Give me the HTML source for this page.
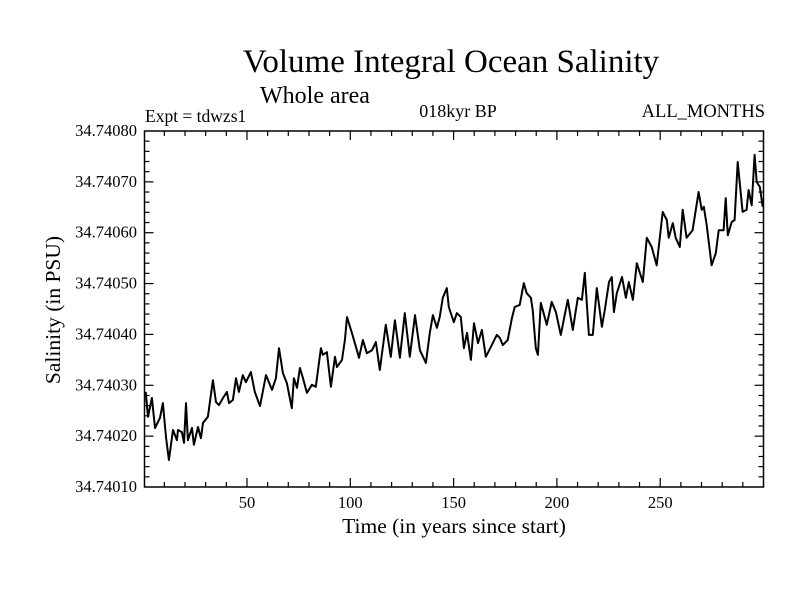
<!DOCTYPE html>
<html><head><meta charset="utf-8"><style>
html,body{margin:0;padding:0;background:#fff;}
svg{display:block;font-family:"Liberation Serif",serif;}
</style></head><body>
<svg id="chart" width="800" height="600" viewBox="0 0 800 600" xmlns="http://www.w3.org/2000/svg">
<rect width="800" height="600" fill="#fff"/>
<text x="451" y="72" font-size="33" text-anchor="middle">Volume Integral Ocean Salinity</text>
<text x="260" y="103" font-size="24">Whole area</text>
<text x="145" y="122" font-size="17.5">Expt = tdwzs1</text>
<text x="458" y="117" font-size="18" text-anchor="middle">018kyr BP</text>
<text x="765" y="117" font-size="18.5" text-anchor="end">ALL_MONTHS</text>
<text transform="translate(60,310) rotate(-90)" font-size="21.5" text-anchor="middle">Salinity (in PSU)</text>
<text x="454" y="533" font-size="21.5" text-anchor="middle">Time (in years since start)</text>
<g id="axes"></g>
<path id="series" fill="none" stroke="#000" stroke-width="2" stroke-linejoin="round"/>
<rect x="144.5" y="131" width="619" height="356" fill="none" stroke="#000" stroke-width="1.5"/>
</svg>
<script>
const years = [1,2.1,4.0,5.5,7.9,9.3,10.8,12.2,14.2,16.1,16.6,18.5,19.5,20.5,21.4,23.4,24.3,26.3,27.7,28.7,31.1,33.5,35.0,36.4,38.4,40.3,41.3,43.2,44.7,46.1,48.0,49.5,51.9,53.8,56.3,59.2,62.1,64.0,65.5,67.4,69.3,71.7,72.7,74.2,75.6,77.1,79.0,81.4,83.3,85.8,86.7,88.7,90.6,92.6,93.5,96.0,97.4,98.4,100.8,103.2,104.2,106.1,108.0,110.5,112.4,114.3,117.2,119.6,121.6,124.0,126.4,128.8,131.3,133.7,136.6,138.5,140.0,141.9,143.3,144.8,146.7,147.7,150.1,151.6,153.5,155.0,156.5,158.4,159.9,161.8,163.7,165.6,168.0,170.9,172.4,173.8,176.2,178.2,179.6,182.0,184.0,185.4,187.4,188.3,189.8,190.8,192.2,195.1,197.5,199.5,201.9,203.8,205.3,207.7,210.1,212.1,213.5,215.5,217.4,219.3,221.8,223.2,225.2,226.6,227.6,229.0,231.5,233.4,234.8,236.8,238.7,241.6,243.5,245.9,248.3,251.2,253.2,254.1,256.1,257.5,259.5,260.9,262.8,265.7,268.6,270.1,271.1,272.5,274.9,276.9,278.3,280.7,281.7,282.7,284.6,286.0,287.5,289.9,291.8,292.8,294.3,295.7,296.7,298.2,299.6];
// salinity anomaly in units of 1e-5 PSU above 34.74
const salinity = [28.7,23.8,27.5,21.6,23.6,26.5,19.8,15.3,21.2,19.2,21.2,20.8,18.7,26.5,19.2,21.6,18.3,21.8,19.6,22.6,23.8,31.0,26.7,26.1,27.5,28.7,26.5,27.1,31.4,28.7,32.0,30.6,32.6,28.7,25.9,32.0,29.1,31.4,37.3,32.4,30.4,25.5,31.4,29.5,33.4,31.4,28.5,30.1,29.7,37.3,36.0,36.5,29.7,35.6,33.6,35.0,38.9,43.4,40.3,36.9,35.4,38.9,36.3,36.9,38.5,33.0,41.9,35.6,42.8,35.4,44.2,35.6,43.8,36.9,34.4,40.3,43.8,41.3,43.4,47.2,49.1,45.4,42.4,44.2,43.4,37.3,40.3,35.0,42.2,38.3,40.9,35.6,37.5,39.9,39.3,37.9,38.9,43.2,45.4,45.8,50.1,48.1,47.2,44.8,37.3,36.0,46.2,41.9,46.4,44.4,39.9,43.8,46.8,40.9,47.2,46.8,52.1,39.9,39.9,49.1,41.5,44.8,50.3,51.3,44.4,48.1,51.3,47.2,50.3,46.8,54.0,50.3,59.0,57.2,53.6,64.1,62.5,59.0,61.9,59.0,57.2,64.5,59.0,60.5,68.0,64.5,65.1,61.5,53.6,56.0,60.5,60.5,66.8,59.5,62.1,62.5,73.9,64.1,64.5,68.4,65.4,75.3,70.0,69.0,65.1];
const yTickLabels = ["34.74010","34.74020","34.74030","34.74040","34.74050","34.74060","34.74070","34.74080"];
const xTickLabels = ["50","100","150","200","250"];

const X0=144.5, X1=763.5, Y0=131, Y1=487;
const xMin=0.4, xMax=300, yMin=10, yMax=80;
const xs = v => X0 + (v - xMin) / (xMax - xMin) * (X1 - X0);
const ys = v => Y1 - (v - yMin) / (yMax - yMin) * (Y1 - Y0);
const NS="http://www.w3.org/2000/svg";
const axes=document.getElementById('axes');
function line(x1,y1,x2,y2,name){
  const l=document.createElementNS(NS,'line');
  l.setAttribute('x1',x1);l.setAttribute('y1',y1);l.setAttribute('x2',x2);l.setAttribute('y2',y2);
  l.setAttribute('stroke','#000');l.setAttribute('stroke-width','1.2');
  
  
  axes.appendChild(l);
}
function text(x,y,s,anchor,name){
  const t=document.createElementNS(NS,'text');
  t.setAttribute('x',x);t.setAttribute('y',y);t.setAttribute('font-size','16.5');t.setAttribute('text-anchor',anchor);
  t.textContent=s;
  
  
  axes.appendChild(t);
}
for(let v=10; v<300; v+=10){
  const x=xs(v), major=(v%50===0), len=major?9:5;
  line(x,Y1,x,Y1-len,'x-tick');
  line(x,Y0,x,Y0+len,'x-tick-top');
}
xTickLabels.forEach(s=>{ text(xs(+s), Y1+21, s, 'middle', 'x-tick-label'); });
for(let v=12; v<80; v+=2){
  const y=ys(v), major=(v%10===0), len=major?9:5;
  line(X0,y,X0+len,y,'y-tick');
  line(X1,y,X1-len,y,'y-tick-right');
}
yTickLabels.forEach((s,i)=>{ text(137, ys(yMin+i*10)+5, s, 'end', 'y-tick-label'); });
let d='';
years.forEach((yr,i)=>{ d+=(i?'L':'M')+xs(yr).toFixed(1)+','+ys(salinity[i]).toFixed(1); });
document.getElementById('series').setAttribute('d',d);
</script>
</body></html>
